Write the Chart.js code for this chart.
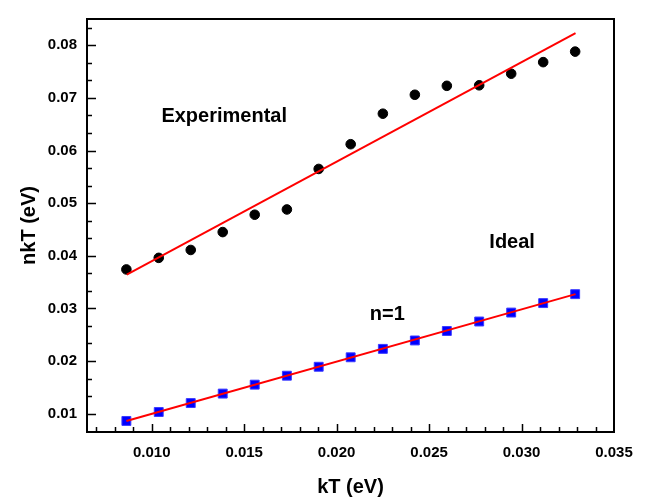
<!DOCTYPE html>
<html lang="en">
<head>
<meta charset="UTF-8">
<title>nkT vs kT</title>
<style>
    body {
        margin: 0;
        padding: 0;
        background-color: #ffffff;
    }
    #wrap {
        width: 646px;
        height: 499px;
    }
</style>
</head>
<body>
<div id="wrap"><canvas id="nktChart" width="646" height="499"></canvas></div>

<script src="https://cdn.jsdelivr.net/npm/chart.js"></script>
<script>
// kT (eV) for each measured temperature
const kT = [0.00863, 0.01038, 0.01211, 0.01384, 0.01557, 0.01731, 0.01903, 0.02076,
            0.02250, 0.02423, 0.02596, 0.02771, 0.02944, 0.03117, 0.03290];

// nkT (eV)
const experimental = [0.0374, 0.0396, 0.0411, 0.0445, 0.0478, 0.0488, 0.0565, 0.0612,
                      0.0670, 0.0706, 0.0723, 0.0724, 0.0746, 0.0768, 0.0788];
const ideal = [0.0086, 0.0103, 0.0120, 0.0138, 0.0155, 0.0172, 0.0189, 0.0207,
               0.0223, 0.0239, 0.0257, 0.0275, 0.0292, 0.0310, 0.0327];

// linear fits (end points)
const fitExpX = [0.00865, 0.03292];
const fitExpY = [0.0364, 0.0823];
const fitIdealX = [0.00863, 0.03292];
const fitIdealY = [0.0086, 0.0327];

const xTicks = [0.010, 0.015, 0.020, 0.025, 0.030, 0.035];
const yTicks = [0.01, 0.02, 0.03, 0.04, 0.05, 0.06, 0.07, 0.08];

const noteText = ['Experimental', 'Ideal', 'n=1'];
const noteX = [0.01392, 0.02949, 0.02274];
const noteY = [0.0664, 0.0426, 0.0289];

const FONT = 'Arial, "Liberation Sans", sans-serif';

function toPoints(xs, ys) {
    return xs.map((x, i) => ({ x: x, y: ys[i] }));
}

// frame, inward tick marks and the text notes
const framePlugin = {
    id: 'frame',
    afterDraw(chart) {
        const ctx = chart.ctx;
        const area = chart.chartArea;
        const xs = chart.scales.x;
        const ys = chart.scales.y;
        ctx.save();
        ctx.strokeStyle = '#000000';
        ctx.lineWidth = 2;
        ctx.strokeRect(area.left, area.top, area.right - area.left, area.bottom - area.top);

        ctx.lineWidth = 1.5;
        ctx.beginPath();
        for (let v = 0.007; v < 0.0355; v += 0.001) {
            const px = Math.round(xs.getPixelForValue(v)) + 0.5;
            if (px <= area.left + 1 || px >= area.right - 1) continue;
            const major = Math.abs(v * 200 - Math.round(v * 200)) < 1e-6;
            ctx.moveTo(px, area.bottom);
            ctx.lineTo(px, area.bottom - (major ? 8 : 5));
        }
        for (let i = 0; i < 30; i++) {
            const v = 0.01 + (i - 1) * 0.01 / 3;
            const py = Math.round(ys.getPixelForValue(v)) + 0.5;
            if (py <= area.top + 1 || py >= area.bottom - 1) continue;
            const major = i % 3 === 1;
            ctx.moveTo(area.left, py);
            ctx.lineTo(area.left + (major ? 9 : 5), py);
        }
        ctx.stroke();

        ctx.fillStyle = '#000000';
        ctx.font = 'bold 20px ' + FONT;
        ctx.textAlign = 'center';
        ctx.textBaseline = 'middle';
        noteText.forEach((t, i) => {
            ctx.fillText(t, xs.getPixelForValue(noteX[i]), ys.getPixelForValue(noteY[i]));
        });
        ctx.restore();
    }
};

const config = {
    type: 'scatter',
    data: {
        datasets: [
            {
                label: 'Experimental fit',
                data: toPoints(fitExpX, fitExpY),
                showLine: true,
                borderColor: '#ff0000',
                borderWidth: 2,
                pointRadius: 0,
                order: 0
            },
            {
                label: 'Ideal fit',
                data: toPoints(fitIdealX, fitIdealY),
                showLine: true,
                borderColor: '#ff0000',
                borderWidth: 2,
                pointRadius: 0,
                order: 0
            },
            {
                label: 'Experimental',
                data: toPoints(kT, experimental),
                pointStyle: 'circle',
                pointRadius: 4.8,
                pointBackgroundColor: '#000000',
                pointBorderColor: '#000000',
                pointBorderWidth: 1,
                order: 1
            },
            {
                label: 'Ideal',
                data: toPoints(kT, ideal),
                pointStyle: 'rect',
                pointRadius: 6.3,
                pointBackgroundColor: '#0000ff',
                pointBorderColor: '#3a3aff',
                pointBorderWidth: 1,
                order: 1
            }
        ]
    },
    options: {
        responsive: false,
        animation: false,
        layout: {
            padding: { top: 13, right: 32, left: 0, bottom: 0 }
        },
        plugins: {
            legend: { display: false },
            tooltip: { enabled: false }
        },
        scales: {
            x: {
                type: 'linear',
                min: 0.0065,
                max: 0.035,
                grid: { display: false, drawTicks: false },
                border: { display: false },
                afterBuildTicks: function(scale) {
                    scale.ticks = xTicks.map(v => ({ value: v }));
                },
                afterFit: function(scale) {
                    scale.height = 67;
                },
                ticks: {
                    autoSkip: false,
                    maxRotation: 0,
                    padding: 12,
                    color: '#000000',
                    font: { family: FONT, size: 15, weight: 'bold' },
                    callback: v => v.toFixed(3)
                },
                title: {
                    display: true,
                    text: 'kT (eV)',
                    color: '#000000',
                    padding: { top: 0, bottom: 0 },
                    font: { family: FONT, size: 20, weight: 'bold' }
                }
            },
            y: {
                type: 'linear',
                min: 0.0065,
                max: 0.085,
                grid: { display: false, drawTicks: false },
                border: { display: false },
                afterBuildTicks: function(scale) {
                    scale.ticks = yTicks.map(v => ({ value: v }));
                },
                afterFit: function(scale) {
                    scale.width = 87;
                },
                ticks: {
                    autoSkip: false,
                    padding: 10,
                    color: '#000000',
                    font: { family: FONT, size: 15, weight: 'bold' },
                    callback: v => v.toFixed(2)
                },
                title: {
                    display: true,
                    text: 'nkT (eV)',
                    color: '#000000',
                    padding: { top: 17, bottom: 0 },
                    font: { family: FONT, size: 20, weight: 'bold' }
                }
            }
        }
    },
    plugins: [framePlugin]
};

window.onload = function() {
    const ctx = document.getElementById('nktChart').getContext('2d');
    new Chart(ctx, config);
};
</script>
</body>
</html>
